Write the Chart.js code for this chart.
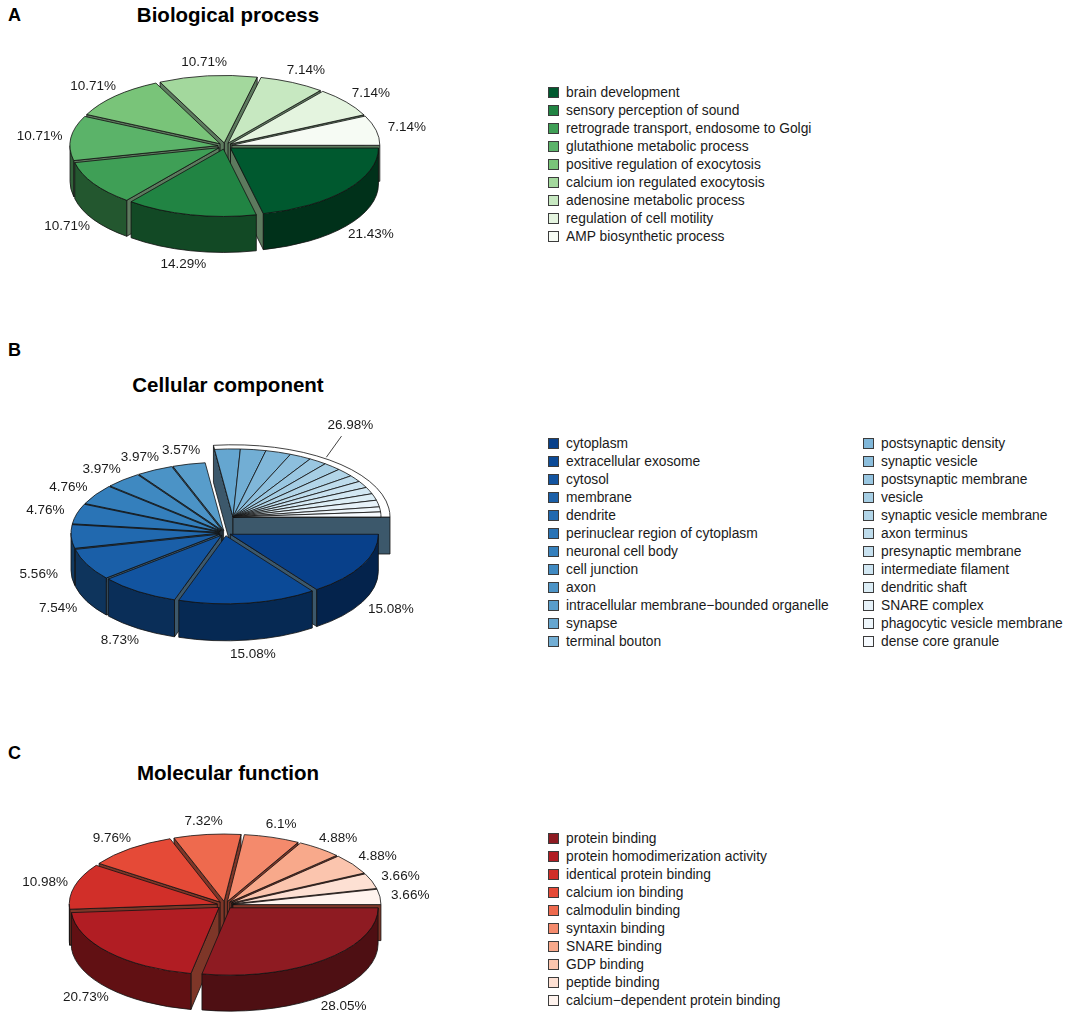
<!DOCTYPE html>
<html>
<head>
<meta charset="utf-8">
<script src="https://cdn.jsdelivr.net/npm/chart.js@4/dist/chart.umd.min.js"></script>
<style>
  body { margin: 0; background: #fff; }
  #page { position: relative; width: 1065px; height: 1020px; overflow: hidden; font-family: "Liberation Sans", Arial, sans-serif; color: #1a1a1a; }
  canvas { position: absolute; }
  .tag { position: absolute; left: 8px; font-weight: bold; font-size: 18px; line-height: 18px; color: #000; }
  .title { position: absolute; left: 0; width: 456px; text-align: center; font-weight: bold; font-size: 20.5px; line-height: 20px; color: #000; }
  .legend { position: absolute; }
  .legend .item { position: absolute; white-space: nowrap; font-size: 13.8px; line-height: 18px; height: 18px; }
  .legend .box { display: inline-block; width: 9px; height: 9px; border: 1px solid #3c3c3c; margin-right: 7px; vertical-align: -1px; }
</style>
</head>
<body>
<div id="page">
  <div class="tag" style="top:6px">A</div>
  <div class="title" style="top:5px">Biological process</div>
  <canvas id="bp" width="450" height="292" style="left:0;top:0"></canvas>
  <div class="legend" id="bpLegend" style="left:548px;top:84px"></div>

  <div class="tag" style="top:341px">B</div>
  <div class="title" style="top:375px">Cellular component</div>
  <canvas id="cc" width="450" height="292" style="left:0;top:387px"></canvas>
  <div class="legend" id="ccLegend" style="left:548px;top:435px"></div>

  <div class="tag" style="top:744px">C</div>
  <div class="title" style="top:763px">Molecular function</div>
  <canvas id="mf" width="450" height="292" style="left:0;top:759px"></canvas>
  <div class="legend" id="mfLegend" style="left:548px;top:830px"></div>
</div>
<script>
// Biological process
const bpLabels = ["brain development", "sensory perception of sound", "retrograde transport, endosome to Golgi",
  "glutathione metabolic process", "positive regulation of exocytosis", "calcium ion regulated exocytosis",
  "adenosine metabolic process", "regulation of cell motility", "AMP biosynthetic process"];
const bpValues = [21.43, 14.29, 10.71, 10.71, 10.71, 10.71, 7.14, 7.14, 7.14];
const bpColors = ["#00592f", "#218443", "#3f9f56", "#5bb369", "#79c479", "#a3d89d", "#c7e8c1", "#e4f4df", "#f6fbf4"];

// Cellular component (last 14 terms are pulled out together as "other")
const ccLabels = ["cytoplasm", "extracellular exosome", "cytosol", "membrane", "dendrite",
  "perinuclear region of cytoplasm", "neuronal cell body", "cell junction", "axon",
  "intracellular membrane\u2212bounded organelle", "synapse", "terminal bouton",
  "postsynaptic density", "synaptic vesicle", "postsynaptic membrane", "vesicle",
  "synaptic vesicle membrane", "axon terminus", "presynaptic membrane", "intermediate filament",
  "dendritic shaft", "SNARE complex", "phagocytic vesicle membrane", "dense core granule"];
const ccValues = [15.08, 15.08, 8.73, 7.54, 5.56, 4.76, 4.76, 3.97, 3.97, 3.57,
  2.78, 2.78, 2.78, 2.38, 1.98, 1.98, 1.98, 1.59, 1.59, 1.59, 1.59, 1.59, 1.19, 1.19];
const ccOtherFrom = 10;
const ccOtherShare = 26.98;
const ccColors = ["#08408a", "#0b4a97", "#1254a0", "#1a5fa8", "#2169af", "#2a74b6", "#347fbc", "#3f89c1",
  "#4b93c6", "#589dcb", "#65a6d0", "#72aed4", "#80b7d9", "#8dbfdd", "#9ac7e1", "#a6cee4",
  "#b2d5e8", "#bedcec", "#c9e2f0", "#d3e8f3", "#ddeef6", "#e7f2f9", "#eff7fc", "#f7fbff"];

// Molecular function
const mfLabels = ["protein binding", "protein homodimerization activity", "identical protein binding",
  "calcium ion binding", "calmodulin binding", "syntaxin binding", "SNARE binding", "GDP binding",
  "peptide binding", "calcium\u2212dependent protein binding"];
const mfValues = [28.05, 20.73, 10.98, 9.76, 7.32, 6.1, 4.88, 4.88, 3.66, 3.66];
const mfColors = ["#8e1b22", "#b11d23", "#d12f29", "#e54a37", "#ee6a4e", "#f48a6c", "#f8a98b", "#fbc5ae", "#fde0d3", "#fff3ee"];

const FONT = '13.5px "Liberation Sans", Arial, sans-serif';

function shade(hex, f) {
  const n = parseInt(hex.slice(1), 16);
  return "rgb(" + [(n >> 16) & 255, (n >> 8) & 255, n & 255].map(v => Math.round(v * f)).join(",") + ")";
}

function wedge(ctx, p, k) {
  ctx.beginPath();
  ctx.moveTo(p.x, p.y);
  ctx.ellipse(p.x, p.y, p.r, p.r * k, 0, p.a0, p.a1);
  ctx.closePath();
}

// draws the pie's arcs as a tilted, exploded 3D pie
function pie3d(s) {
  return {
    id: "pie3d",
    beforeDatasetsDraw(chart) {
      const ctx = chart.ctx, k = s.tilt, D = s.depth;
      const colors = chart.data.datasets[0].backgroundColor;
      const pieces = chart.getDatasetMeta(0).data.map((arc, i) => {
        const p = arc.getProps(["x", "y", "startAngle", "endAngle", "outerRadius"], true);
        const mid = (p.startAngle + p.endAngle) / 2;
        const grouped = s.groupFrom !== undefined && i >= s.groupFrom;
        return {
          cx: p.x, cy: p.y, mid,
          x: p.x + (grouped ? s.groupShift[0] : s.explode * Math.cos(mid)),
          y: p.y + (grouped ? s.groupShift[1] : s.explode * k * Math.sin(mid)),
          a0: p.startAngle, a1: p.endAngle, r: p.outerRadius, color: colors[i], grouped
        };
      });
      chart.$pieces = pieces;
      const solids = pieces.filter(p => !p.grouped);
      const members = pieces.filter(p => p.grouped);
      if (members.length) {
        const f = members[0], l = members[members.length - 1];
        const back = { x: f.x, y: f.y, a0: f.a0, a1: l.a1, r: f.r + s.groupRim, color: "#ffffff", back: true };
        solids.push(back);
        chart.$back = back;
      }

      // side walls, painted back to front
      const walls = [];
      solids.forEach(p => {
        if (Math.cos(p.a0) < -0.01) walls.push({ p, a: p.a0, key: p.y + p.r * k * Math.sin(p.a0) / 2 });
        if (Math.cos(p.a1) > 0.01) walls.push({ p, a: p.a1, key: p.y + p.r * k * Math.sin(p.a1) / 2 });
        const f0 = Math.max(p.a0, 0), f1 = Math.min(p.a1, Math.PI);
        if (f1 > f0) walls.push({ p, f0, f1, outer: true, key: p.y + p.r * k * Math.sin((f0 + f1) / 2) });
      });
      walls.sort((a, b) => a.key - b.key);

      ctx.save();
      ctx.lineWidth = 0.8;
      ctx.strokeStyle = "#111";
      ctx.lineJoin = "round";
      walls.forEach(w => {
        const p = w.p;
        ctx.beginPath();
        if (w.outer) {
          ctx.ellipse(p.x, p.y, p.r, p.r * k, 0, w.f0, w.f1);
          ctx.lineTo(p.x + p.r * Math.cos(w.f1), p.y + D + p.r * k * Math.sin(w.f1));
          ctx.ellipse(p.x, p.y + D, p.r, p.r * k, 0, w.f1, w.f0, true);
          ctx.closePath();
          ctx.fillStyle = shade(p.color, s.wallShade);
        } else {
          const ex = p.x + p.r * Math.cos(w.a), ey = p.y + p.r * k * Math.sin(w.a);
          ctx.moveTo(p.x, p.y);
          ctx.lineTo(ex, ey);
          ctx.lineTo(ex, ey + D);
          ctx.lineTo(p.x, p.y + D);
          ctx.closePath();
          ctx.fillStyle = s.sideColor;
        }
        ctx.fill();
        ctx.stroke();
      });

      // top faces
      solids.concat(members).forEach(p => {
        wedge(ctx, p, k);
        ctx.fillStyle = p.color;
        ctx.fill();
        ctx.stroke();
      });
      ctx.restore();
      return false;
    },
    afterDraw(chart) {
      const ctx = chart.ctx, k = s.tilt, D = s.depth;
      const values = chart.data.datasets[0].data;
      ctx.save();
      ctx.font = FONT;
      ctx.fillStyle = "#1a1a1a";
      ctx.textAlign = "center";
      ctx.textBaseline = "middle";
      chart.$pieces.forEach((p, i) => {
        if (p.grouped) return;
        const sn = Math.sin(p.mid);
        const x = p.cx + s.labelRx * p.r * Math.cos(p.mid);
        const y = p.cy + s.labelRy * p.r * k * sn + (sn > 0 ? D : 0);
        ctx.fillText(values[i] + "%", x, y);
      });
      const b = chart.$back;
      if (b) {
        const m = (b.a0 + b.a1) / 2 - s.leaderTurn, c = Math.cos(m), sn = Math.sin(m);
        const sx = b.x + (b.r + 3) * c, sy = b.y + (b.r + 3) * k * sn;
        const ex = sx + s.leader * c, ey = sy + s.leader * sn;
        ctx.strokeStyle = "#111";
        ctx.lineWidth = 0.8;
        ctx.beginPath();
        ctx.moveTo(sx, sy);
        ctx.lineTo(ex, ey);
        ctx.stroke();
        ctx.fillText(s.groupText, ex + 15 * c, ey + 13 * sn);
      }
      ctx.restore();
    }
  };
}

function makePie(id, labels, values, colors, settings) {
  return new Chart(document.getElementById(id), {
    type: "pie",
    data: {
      labels: labels,
      datasets: [{ data: values, backgroundColor: colors, borderWidth: 0, radius: 148 }]
    },
    options: {
      responsive: false,
      animation: false,
      rotation: 90,
      layout: { padding: 0 },
      events: [],
      plugins: { legend: { display: false }, tooltip: { enabled: false } }
    },
    plugins: [pie3d(settings)]
  });
}

function buildLegend(elId, chart, perColumn, columnGap) {
  const el = document.getElementById(elId);
  const colors = chart.data.datasets[0].backgroundColor;
  chart.data.labels.forEach((text, i) => {
    const item = document.createElement("div");
    item.className = "item";
    item.style.left = Math.floor(i / perColumn) * columnGap + "px";
    item.style.top = (i % perColumn) * 18 + "px";
    const box = document.createElement("span");
    box.className = "box";
    box.style.background = colors[i];
    item.appendChild(box);
    item.appendChild(document.createTextNode(text));
    el.appendChild(item);
  });
}

const bpChart = makePie("bp", bpLabels, bpValues, bpColors, {
  tilt: 0.455, depth: 36, explode: 7, wallShade: 0.55, sideColor: "#5d7a5e",
  labelRx: 1.26, labelRy: 1.25
});
const ccChart = makePie("cc", ccLabels, ccValues, ccColors, {
  tilt: 0.46, depth: 37, explode: 6, wallShade: 0.55, sideColor: "#3c586b",
  labelRx: 1.26, labelRy: 1.25,
  groupFrom: ccOtherFrom, groupShift: [8, -16], groupRim: 9, leader: 26, leaderTurn: 0.1,
  groupText: ccOtherShare + "%"
});
const mfChart = makePie("mf", mfLabels, mfValues, mfColors, {
  tilt: 0.455, depth: 36, explode: 8, wallShade: 0.55, sideColor: "#7e3628",
  labelRx: 1.26, labelRy: 1.25
});

buildLegend("bpLegend", bpChart, 20, 0);
buildLegend("ccLegend", ccChart, 12, 315);
buildLegend("mfLegend", mfChart, 20, 0);
</script>
</body>
</html>
